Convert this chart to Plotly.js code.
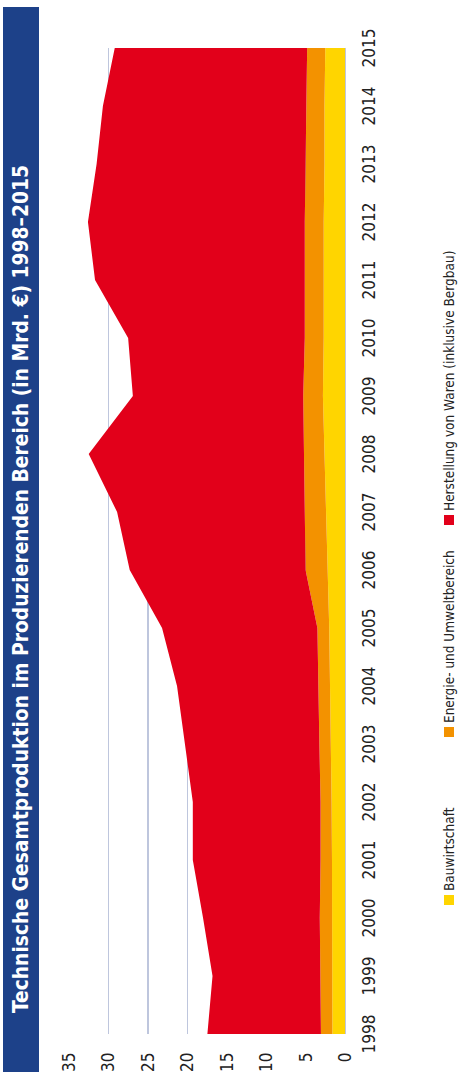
<!DOCTYPE html>
<html>
<head>
<meta charset="utf-8">
<script src="https://cdn.plot.ly/plotly-3.0.1.min.js"></script>
<style>
html,body{margin:0;padding:0;background:#fff;}
body{width:459px;height:1072px;overflow:hidden;position:relative;}
#chart{position:absolute;left:0;top:0;width:1072px;height:459px;transform-origin:0 0;transform:translate(0px,1072px) rotate(-90deg);}
</style>
</head>
<body>
<div id="chart"></div>
<script>
// Data (in Mrd. €)
const years = [1998,1999,2000,2001,2002,2003,2004,2005,2006,2007,2008,2009,2010,2011,2012,2013,2014,2015];
const bauwirtschaft = [1.6,1.6,1.6,1.65,1.7,1.8,1.9,2.0,2.2,2.4,2.6,2.8,2.7,2.7,2.7,2.6,2.6,2.5];
const energieUmwelt = [1.45,1.5,1.6,1.45,1.4,1.45,1.5,1.5,2.8,2.7,2.55,2.5,2.4,2.4,2.4,2.4,2.3,2.3];
const herstellung = [14.4,13.7,14.8,16.2,16.2,17.05,17.9,19.7,22.3,23.8,27.35,21.6,22.4,26.6,27.5,26.5,25.8,24.4];
const seriesNames = ["Bauwirtschaft","Energie- und Umweltbereich","Herstellung von Waren (inklusive Bergbau)"];
const seriesColors = ["#ffd500","#f39200","#e2001a"];
const titleText = "Technische Gesamtproduktion im Produzierenden Bereich (in Mrd. €) 1998–2015";

// layout geometry helpers (unrotated frame: 1072 x 459)
const W = 1072, H = 459;
const M = {l:38, r:48, t:69, b:114};
const pw = W - M.l - M.r, ph = H - M.t - M.b;
const px = u => (u - M.l) / pw;
const py = v => (H - M.b - v) / ph;

const FONT = "DejaVu Sans Condensed, DejaVu Sans, sans-serif";
const values = [bauwirtschaft, energieUmwelt, herstellung];

const traces = values.map((vals, i) => ({
  type: 'scatter',
  mode: 'lines',
  x: years,
  y: vals,
  name: seriesNames[i],
  stackgroup: 'one',
  line: {width: 0, color: seriesColors[i]},
  fillcolor: seriesColors[i],
  showlegend: false,
  hoverinfo: 'skip'
}));

const legendU = [172, 340, 552];
const legendV = 449;
const shapes = [
  {type:'rect', xref:'paper', yref:'paper', x0:px(0), x1:px(1065), y0:py(39), y1:py(3),
   fillcolor:'#1d4189', line:{width:0}, layer:'below'}
];
const annotations = [
  {xref:'paper', yref:'paper', x:px(57), y:py(21), xanchor:'left', yanchor:'middle',
   text:'<b>'+titleText+'</b>', showarrow:false,
   font:{family:FONT, size:20.8, color:'#ffffff'}}
];
seriesNames.forEach((n, i) => {
  shapes.push({type:'rect', xref:'paper', yref:'paper',
    x0:px(legendU[i]-5), x1:px(legendU[i]+5), y0:py(legendV+5), y1:py(legendV-5),
    fillcolor:seriesColors[i], line:{width:0}});
  annotations.push({xref:'paper', yref:'paper', x:px(legendU[i]+7), y:py(legendV),
    xanchor:'left', yanchor:'middle', text:n, showarrow:false,
    font:{family:FONT, size:13.5, color:'#222222'}});
});

const layout = {
  width: W, height: H,
  margin: M,
  paper_bgcolor: '#ffffff',
  plot_bgcolor: '#ffffff',
  showlegend: false,
  xaxis: {
    range: [1998, 2015],
    tickvals: years,
    ticktext: years.map(String),
    showgrid: false, zeroline: false, showline: false,
    ticks: 'outside', ticklen: 9, tickcolor: 'rgba(0,0,0,0)',
    tickfont: {family: FONT, size: 17, color: '#222222'},
    fixedrange: true
  },
  yaxis: {
    range: [0, 35],
    dtick: 5,
    showgrid: true, gridcolor: '#bec6dd', gridwidth: 1.3,
    zeroline: true, zerolinecolor: '#bec6dd', zerolinewidth: 1.3,
    showline: false,
    ticks: 'outside', ticklen: 14, tickcolor: 'rgba(0,0,0,0)',
    tickfont: {family: FONT, size: 17, color: '#222222'},
    fixedrange: true
  },
  shapes: shapes,
  annotations: annotations
};

Plotly.newPlot('chart', traces, layout, {displayModeBar: false, staticPlot: true});
</script>
</body>
</html>
